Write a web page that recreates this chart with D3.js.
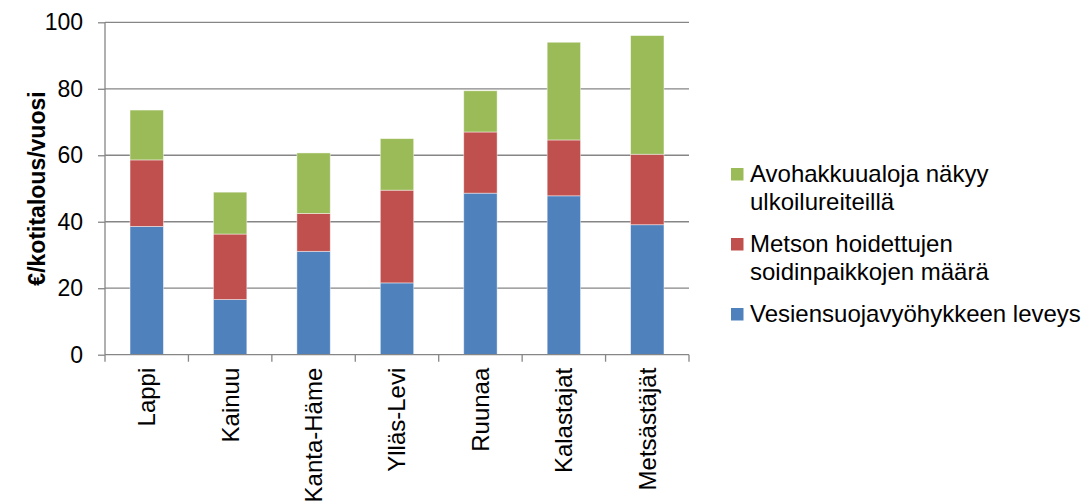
<!DOCTYPE html>
<html>
<head>
<meta charset="utf-8">
<script src="https://cdn.jsdelivr.net/npm/d3@7"></script>
<style>
  html, body { margin: 0; padding: 0; background: #fff; }
  svg { display: block; font-family: "Liberation Sans", Arial, sans-serif; }
</style>
</head>
<body>
<svg id="chart" width="1083" height="501"></svg>
<script>
const categories = ["Lappi", "Kainuu", "Kanta-Häme", "Ylläs-Levi", "Ruunaa", "Kalastajat", "Metsästäjät"];
const vesiensuoja = [38.6, 16.6, 31.1, 21.6, 48.6, 47.8, 39.1];
const metso = [20.0, 19.7, 11.4, 27.9, 18.4, 16.8, 21.2];
const avohakkuu = [15.0, 12.6, 18.2, 15.5, 12.4, 29.4, 35.7];
const yTicks = [0, 20, 40, 60, 80, 100];
const seriesNames = ["Vesiensuojavyöhykkeen leveys", "Metson hoidettujen soidinpaikkojen määrä", "Avohakkuualoja näkyy ulkoilureiteillä"];
const legendLines = [["Avohakkuualoja näkyy", "ulkoilureiteillä"], ["Metson hoidettujen", "soidinpaikkojen määrä"], ["Vesiensuojavyöhykkeen leveys"]];
const seriesColors = ["#4F81BD", "#C0504D", "#9BBB59"];
const yLabel = "€/kotitalous/vuosi";

const svg = d3.select("#chart");
const pLeft = 105, pRight = 689, pTop = 22.3, pBottom = 354.7;

const rows = categories.map((c, i) => ({ cat: c, s0: vesiensuoja[i], s1: metso[i], s2: avohakkuu[i] }));
const stack = d3.stack().keys(["s0", "s1", "s2"]);
const stacked = stack(rows);

const x = d3.scaleBand().domain(categories).range([pLeft, pRight]).paddingInner(0.6).paddingOuter(0.3);
const y = d3.scaleLinear().domain([0, 100]).range([pBottom, pTop]);

// gridlines
svg.append("g").selectAll("line").data(yTicks.filter(d => d > 0)).join("line")
  .attr("x1", pLeft).attr("x2", pRight)
  .attr("y1", d => y(d)).attr("y2", d => y(d))
  .attr("stroke", "#868686").attr("stroke-width", 1.3);

// bars
svg.append("g").selectAll("g").data(stacked).join("g")
  .attr("fill", (d, i) => seriesColors[i])
  .selectAll("rect").data(d => d).join("rect")
  .attr("x", d => x(d.data.cat))
  .attr("width", x.bandwidth())
  .attr("y", d => y(d[1]))
  .attr("height", d => y(d[0]) - y(d[1]))
  .attr("stroke", "rgba(255,255,255,0.55)")
  .attr("stroke-width", 0.8);

// y axis
const yAxis = d3.axisLeft(y).tickValues(yTicks).tickSize(7).tickPadding(15).tickFormat(d3.format("d"));
const gy = svg.append("g").attr("transform", `translate(${pLeft},0)`).call(yAxis);
gy.select(".domain").attr("stroke", "#868686").attr("stroke-width", 1.3).attr("d", `M0,${pBottom}V${pTop}`);
gy.selectAll(".tick line").attr("stroke", "#868686").attr("stroke-width", 1.3);
gy.selectAll(".tick text").attr("font-size", 23).attr("fill", "#000").attr("font-family", "Liberation Sans, Arial, sans-serif");

// x axis: ticks at category boundaries
const boundaries = d3.range(categories.length + 1).map(i => pLeft + i * (pRight - pLeft) / categories.length);
svg.append("line").attr("x1", pLeft).attr("x2", pRight).attr("y1", pBottom).attr("y2", pBottom)
  .attr("stroke", "#868686").attr("stroke-width", 1.3);
svg.append("g").selectAll("line").data(boundaries).join("line")
  .attr("x1", d => d).attr("x2", d => d).attr("y1", pBottom).attr("y2", pBottom + 7)
  .attr("stroke", "#868686").attr("stroke-width", 1.3);

const xAxis = d3.axisBottom(x).tickSize(0).tickPadding(0);
const gx = svg.append("g").attr("transform", `translate(0,${pBottom})`).call(xAxis);
gx.select(".domain").remove();
gx.selectAll(".tick text")
  .attr("font-size", 24).attr("fill", "#000").attr("font-family", "Liberation Sans, Arial, sans-serif")
  .attr("transform", "rotate(-90)")
  .attr("text-anchor", "end")
  .attr("x", -13).attr("y", 0).attr("dy", "0.35em");

// y label
svg.append("text")
  .attr("transform", `translate(37,${(pTop + pBottom) / 2}) rotate(-90)`)
  .attr("text-anchor", "middle").attr("dy", "0.35em")
  .attr("font-size", 23).attr("font-weight", "bold").attr("fill", "#000")
  .text(yLabel);

// legend
const legendColorIdx = [2, 1, 0];
const legendBaselines = [181.5, 251.5, 321.5];
const lg = svg.append("g");
legendLines.forEach((lines, k) => {
  const b = legendBaselines[k];
  lg.append("rect").attr("x", 731).attr("y", b - 13.5).attr("width", 12.5).attr("height", 12.5)
    .attr("fill", seriesColors[legendColorIdx[k]]);
  const t = lg.append("text").attr("x", 750).attr("y", b)
    .attr("font-size", 24).attr("fill", "#000");
  lines.forEach((ln, j) => {
    t.append("tspan").attr("x", 750).attr("dy", j === 0 ? 0 : 28.5).text(ln);
  });
});
</script>
</body>
</html>
